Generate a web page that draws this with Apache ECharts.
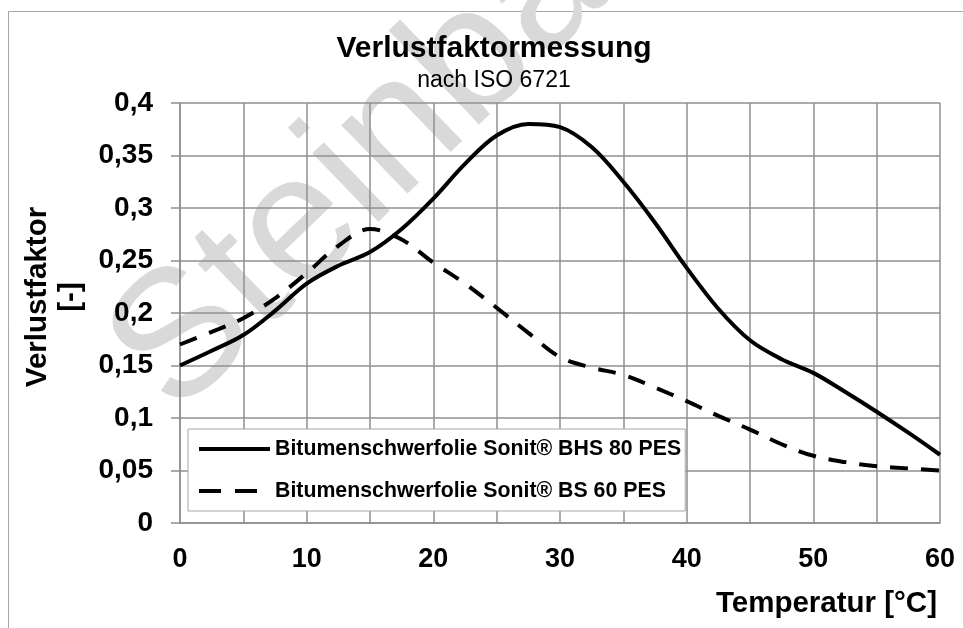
<!DOCTYPE html>
<html>
<head>
<meta charset="utf-8">
<script src="https://cdn.jsdelivr.net/npm/echarts@6/dist/echarts.min.js"></script>
<style>
  html, body { margin: 0; padding: 0; background: #fff; }
  #main { width: 963px; height: 628px; }
</style>
</head>
<body>
<div id="main"></div>
<script>
// Temperatur [°C]
var temps = [0, 2.5, 5, 7.5, 10, 12.5, 15, 17.5, 20, 22.5, 25, 27.5, 30,
             32.5, 35, 37.5, 40, 42.5, 45, 47.5, 50, 52.5, 55, 57.5, 60];
// Bitumenschwerfolie Sonit® BHS 80 PES
var bhs80 = [0.150, 0.164, 0.179, 0.202, 0.228, 0.245, 0.258, 0.280, 0.309, 0.342, 0.369, 0.380, 0.377,
             0.358, 0.325, 0.286, 0.243, 0.204, 0.174, 0.156, 0.143, 0.125, 0.106, 0.086, 0.065];
// Bitumenschwerfolie Sonit® BS 60 PES
var bs60 = [0.170, 0.182, 0.195, 0.214, 0.238, 0.264, 0.280, 0.270, 0.248, 0.228, 0.205, 0.181, 0.158,
            0.148, 0.141, 0.129, 0.116, 0.102, 0.089, 0.075, 0.064, 0.058, 0.054, 0.052, 0.050];

var seriesNames = ['Bitumenschwerfolie Sonit® BHS 80 PES', 'Bitumenschwerfolie Sonit® BS 60 PES'];
var xTickLabels = ['0', '10', '20', '30', '40', '50', '60'];
var yTickLabels = ['0', '0,05', '0,1', '0,15', '0,2', '0,25', '0,3', '0,35', '0,4'];

var FONT = '"Liberation Sans", Arial, sans-serif';
var GRID_COLOR = '#8f8f8f';

function pairs(xs, ys) {
  var out = [];
  for (var i = 0; i < xs.length; i++) out.push([xs[i], ys[i]]);
  return out;
}

var myChart = echarts.init(document.getElementById('main'));

var option = {
  animation: false,
  backgroundColor: '#fff',
  textStyle: { fontFamily: FONT, color: '#000' },
  title: {
    text: 'Verlustfaktormessung',
    subtext: 'nach ISO 6721',
    left: 489,
    textAlign: 'center',
    top: 29,
    itemGap: 5,
    textStyle: { fontFamily: FONT, fontSize: 30, fontWeight: 'bold', color: '#000' },
    subtextStyle: { fontFamily: FONT, fontSize: 23, color: '#000' }
  },
  graphic: [
    {
      type: 'rect',
      z: -20,
      shape: { x: 8.5, y: 11.5, width: 1000, height: 700 },
      style: { fill: 'none', stroke: '#a6a6a6', lineWidth: 1 }
    },
    {
      type: 'text',
      z: -10,
      x: 141,
      y: 382,
      rotation: 44 * Math.PI / 180,
      style: {
        text: 'Steinbach',
        font: '180px ' + FONT,
        fill: '#d9d9d9',
        align: 'left',
        verticalAlign: 'middle'
      }
    }
  ],
  legend: {
    orient: 'vertical',
    left: 188,
    top: 429,
    backgroundColor: '#fff',
    borderColor: '#a6a6a6',
    borderWidth: 1,
    padding: [8, 4, 8, 9],
    itemWidth: 71,
    itemHeight: 14,
    itemGap: 18,
    itemStyle: { opacity: 0 },
    lineStyle: { width: 4 },
    textStyle: { fontFamily: FONT, fontSize: 21.3, fontWeight: 'bold', color: '#000', lineHeight: 24 },
    data: [
      { name: seriesNames[0] },
      { name: seriesNames[1], lineStyle: { type: [22, 14] } }
    ]
  },
  grid: { left: 180, right: 23, top: 103, bottom: 105 },
  xAxis: {
    type: 'value',
    min: 0,
    max: 60,
    interval: 10,
    name: 'Temperatur [°C]',
    nameLocation: 'end',
    nameGap: -3,
    nameTextStyle: {
      fontFamily: FONT, fontSize: 29.5, fontWeight: 'bold', color: '#000',
      align: 'right', verticalAlign: 'top', padding: [66, 0, 0, 0]
    },
    axisLine: { lineStyle: { color: GRID_COLOR, width: 1.5 } },
    axisTick: { show: false },
    minorTick: { show: false, splitNumber: 2 },
    minorSplitLine: { show: true, lineStyle: { color: GRID_COLOR, width: 1.5 } },
    splitLine: { show: true, lineStyle: { color: GRID_COLOR, width: 1.5 } },
    axisLabel: {
      margin: 23,
      fontFamily: FONT, fontSize: 27, fontWeight: 'bold', color: '#000',
      formatter: function (v) { return xTickLabels[Math.round(v / 10)]; }
    }
  },
  yAxis: {
    type: 'value',
    min: 0,
    max: 0.4,
    interval: 0.05,
    name: 'Verlustfaktor\n[-]',
    nameLocation: 'middle',
    nameRotate: 90,
    nameGap: 70,
    nameTextStyle: {
      fontFamily: FONT, fontSize: 29.5, fontWeight: 'bold', color: '#000',
      lineHeight: 33, padding: [0, 0, 0, 32]
    },
    axisLine: { show: true, lineStyle: { color: GRID_COLOR, width: 1.5 } },
    axisTick: { show: true, inside: false, length: 9, lineStyle: { color: GRID_COLOR, width: 1.5 } },
    splitLine: { show: true, lineStyle: { color: GRID_COLOR, width: 1.5 } },
    axisLabel: {
      margin: 27,
      fontFamily: FONT, fontSize: 28, fontWeight: 'bold', color: '#000',
      formatter: function (v) { return yTickLabels[Math.round(v / 0.05)]; }
    }
  },
  series: [
    {
      name: seriesNames[0],
      type: 'line',
      smooth: 0.35,
      symbol: 'none',
      data: pairs(temps, bhs80),
      lineStyle: { color: '#000', width: 4 },
      itemStyle: { color: '#000' }
    },
    {
      name: seriesNames[1],
      type: 'line',
      smooth: 0.35,
      symbol: 'none',
      data: pairs(temps, bs60),
      lineStyle: { color: '#000', width: 4, type: [18, 13] },
      itemStyle: { color: '#000' }
    }
  ]
};

myChart.setOption(option);
</script>
</body>
</html>
